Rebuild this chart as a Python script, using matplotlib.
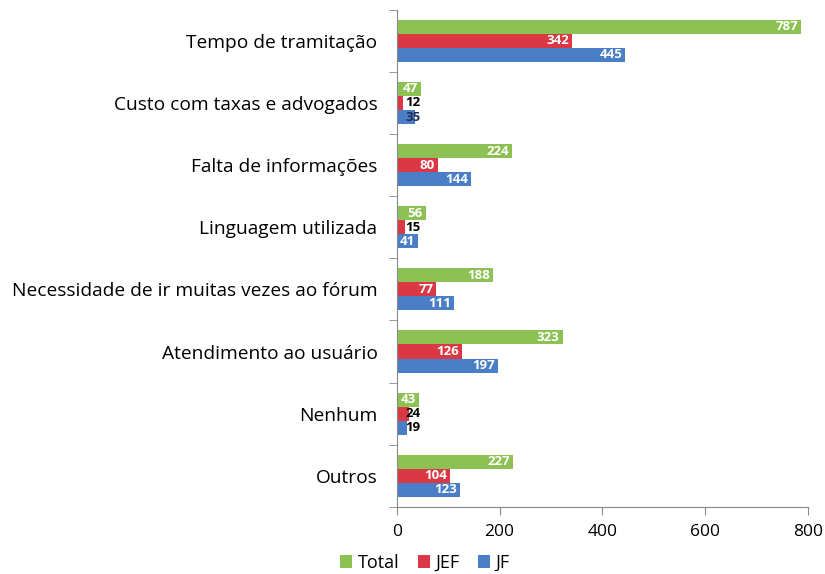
import matplotlib
matplotlib.use('Agg')
import matplotlib.pyplot as plt
import numpy as np

# Dados do gráfico
categorias = ['Tempo de tramitação', 'Custo com taxas e advogados', 'Falta de informações',
              'Linguagem utilizada', 'Necessidade de ir muitas vezes ao fórum',
              'Atendimento ao usuário', 'Nenhum', 'Outros']
total = [787, 47, 224, 56, 188, 323, 43, 227]
jef = [342, 12, 80, 15, 77, 126, 24, 104]
jf = [445, 35, 144, 41, 111, 197, 19, 123]
series = ['Total', 'JEF', 'JF']
cores = ['#8DC154', '#D93844', '#4A7EC6']

plt.rcParams['font.family'] = ['Open Sans', 'DejaVu Sans']

fig = plt.figure(figsize=(8.25, 5.74), dpi=100)
ax = fig.add_axes([0.481, 0.117, 0.498, 0.866])

n = len(categorias)
y = np.arange(n)
h = 0.226
for k, (valores, cor) in enumerate(zip([total, jef, jf], cores)):
    pos = y - h + k * h
    ax.barh(pos, valores, height=h, color=cor, label=series[k])
    for p, v in zip(pos, valores):
        if v >= 40:
            ax.text(v - 6, p, str(v), ha='right', va='center', color='white',
                    fontsize=9.5, fontweight='bold')
        else:
            ax.text(16, p, str(v), ha='left', va='center',
                    color='#1F2F5A' if v == 35 else 'black',
                    fontsize=9.5, fontweight='bold')

ax.set_ylim(n - 0.5, -0.5)
ax.set_xlim(0, 800)
ax.set_xticks([0, 200, 400, 600, 800])
ax.set_yticks(y)
ax.set_yticklabels(categorias, fontsize=13.8)
ax.set_yticks(np.arange(n + 1) - 0.5, minor=True)
ax.tick_params(axis='y', which='major', length=0, pad=14)
ax.tick_params(axis='y', which='minor', length=6, color='#888888')
ax.tick_params(axis='x', length=6, color='#888888', labelsize=12.5, pad=6)
for s in ['top', 'right']:
    ax.spines[s].set_visible(False)
for s in ['left', 'bottom']:
    ax.spines[s].set_color('#888888')

fig.legend(loc='center', bbox_to_anchor=(0.515, 0.02), ncol=3, frameon=False,
           fontsize=13, handlelength=0.7, handleheight=0.7, handletextpad=0.3,
           columnspacing=1.0)

fig.savefig('out.png', dpi=100)
